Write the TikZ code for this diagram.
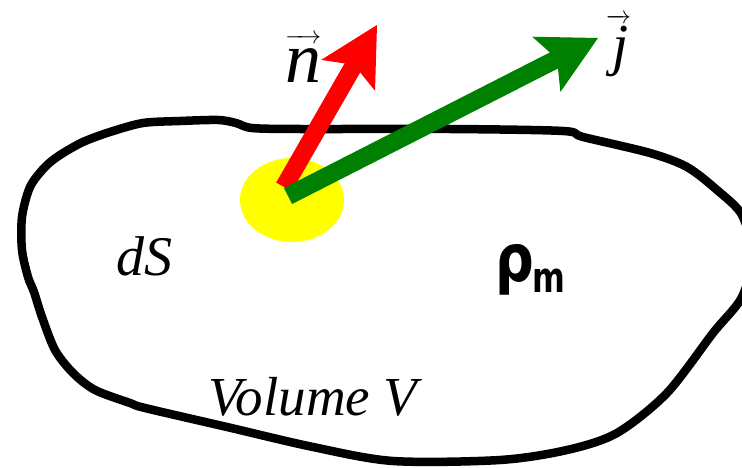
\documentclass[tikz,border=0pt]{standalone}
\usepackage{fontspec}
\usepackage{graphicx}
\setmainfont{Liberation Serif}
\newfontfamily\rhofont{DejaVu Sans}
\usetikzlibrary{arrows.meta,shapes.geometric}
\definecolor{jgreen}{RGB}{0,128,0}
\definecolor{nred}{RGB}{255,0,0}
\definecolor{dsyellow}{RGB}{255,255,0}
\tikzset{
  outline/.style={line width=8.5pt, line join=round, draw=black},
  vecarrow/.style={line width=18pt, -{Stealth[length=58pt,width=62pt,inset=12pt,line width=0pt]}},
  lbl/.style={inner sep=0pt, anchor=base west}
}
\begin{document}
\begin{tikzpicture}[x=1pt,y=-1pt]
\useasboundingbox (0,0) rectangle (742,468);
\clip (0,0) rectangle (742,468);
% outline of the volume
\draw[outline] plot[smooth cycle, tension=0.5] coordinates {
 (22,217) (30,187) (45,167) (60,155) (83,142) (110,132) (143,123) (180,121) (218,120)
 (236,123) (252,128) (300,129) (450,129) (563,131) (583,137) (650,153) (687,167)
 (717,190) (742,215) (752,255) (742,297) (713,333) (667,393) (617,433)
 (567,450) (500,460) (393,461) (313,447) (227,427) (145,408) (130,403) (95,390)
 (73,373) (55,350) (42,317) (34,292) (28,277) (22,250)};
% surface element
\node[ellipse, fill=dsyellow, minimum width=104pt, minimum height=84pt, inner sep=0pt] (dS) at (292,200) {};
% vectors
\coordinate (ntail) at (284,187);
\coordinate (ntip) at (377,25);
\coordinate (jtail) at (288,196);
\coordinate (jtip) at (598,38);
\draw[vecarrow, nred] (ntail) -- (ntip);
\draw[vecarrow, jgreen] (jtail) -- (jtip);
% labels
\node[lbl, font=\fontsize{72}{80}\selectfont] (nlab) at (285,83) {$\overrightarrow{\mbox{\itshape n\rule{0pt}{40pt}}}$};
\node[lbl, font=\fontsize{58}{64}\selectfont] (jlab) at (606,65) {$\overrightarrow{\mbox{\itshape\kern4pt j\rule{0pt}{42pt}}}$};
\node[lbl, font=\fontsize{56}{60}\selectfont\itshape] (dslab) at (116,275) {dS};
\node[lbl, font=\fontsize{55}{60}\selectfont\itshape] (vol) at (208,415) {Volume V};
\node[lbl] (rho) at (495,281) {\rhofont\fontsize{66}{70}\selectfont\scalebox{0.82}[1]{\textbf{ρ}}\kern-1pt\raisebox{-11pt}{\scalebox{0.75}[1]{\fontsize{42}{46}\selectfont\bfseries m}}};
\end{tikzpicture}
\end{document}
